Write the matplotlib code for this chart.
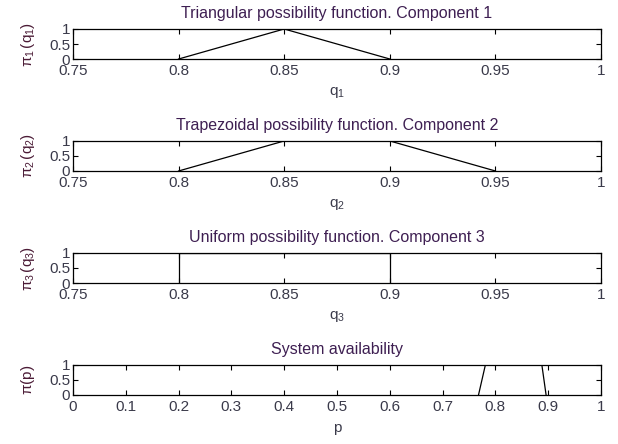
import matplotlib
matplotlib.use("Agg")
import matplotlib.pyplot as plt

plt.rcParams['font.family'] = ['Liberation Sans', 'DejaVu Sans']
plt.rcParams['mathtext.fontset'] = 'custom'
plt.rcParams['mathtext.rm'] = 'Liberation Sans'
plt.rcParams['mathtext.it'] = 'Liberation Sans'
plt.rcParams['font.size'] = 11

# Possibility functions
q1 = [0.80, 0.85, 0.90]
pi1 = [0, 1, 0]

q2 = [0.80, 0.85, 0.90, 0.95]
pi2 = [0, 1, 1, 0]

q3 = [0.80, 0.80, 0.90, 0.90]
pi3 = [0, 1, 1, 0]

p_sys = [0.768, 0.781, 0.888, 0.896]
pi_sys = [0, 1, 1, 0]

q_ticks = [0.75, 0.8, 0.85, 0.9, 0.95, 1]
q_ticklabels = ['0.75', '0.8', '0.85', '0.9', '0.95', '1']
p_ticks = [0, 0.1, 0.2, 0.3, 0.4, 0.5, 0.6, 0.7, 0.8, 0.9, 1]
p_ticklabels = ['0', '0.1', '0.2', '0.3', '0.4', '0.5', '0.6', '0.7', '0.8', '0.9', '1']
y_ticks = [0, 0.5, 1]
y_ticklabels = ['0', '0.5', '1']

panels = [
    (q1, pi1, 'Triangular possibility function. Component 1', r'$q_1$', r'$\pi_1\,(q_1)$',
     (0.75, 1), q_ticks, q_ticklabels),
    (q2, pi2, 'Trapezoidal possibility function. Component 2', r'$q_2$', r'$\pi_2\,(q_2)$',
     (0.75, 1), q_ticks, q_ticklabels),
    (q3, pi3, 'Uniform possibility function. Component 3', r'$q_3$', r'$\pi_3\,(q_3)$',
     (0.75, 1), q_ticks, q_ticklabels),
    (p_sys, pi_sys, 'System availability', 'p', r'$\pi(p)$',
     (0, 1), p_ticks, p_ticklabels),
]

TITLE_C = '#3e1f52'
TICK_C = '#3a3a4a'
YLAB_C = '#4a1a35'

fig = plt.figure(figsize=(6.18, 4.44), dpi=100)
bottoms = [0.8671, 0.6149, 0.3626, 0.1104]
left, width, height = 0.1181, 0.8544, 0.0676

for (x, y, title, xlab, ylab, xlim, xt, xtl), b in zip(panels, bottoms):
    ax = fig.add_axes([left, b, width, height])
    ax.plot(x, y, color='black', linewidth=0.9)
    ax.set_xlim(*xlim)
    ax.set_ylim(0, 1)
    ax.set_xticks(xt)
    ax.set_xticklabels(xtl)
    ax.set_yticks(y_ticks)
    ax.set_yticklabels(y_ticklabels)
    ax.tick_params(direction='in', length=3.5, width=0.8, top=True, right=True,
                   labelsize=11, colors='black')
    ax.tick_params(axis='x', pad=3.5)
    ax.tick_params(axis='y', pad=2)
    for lab in ax.get_xticklabels() + ax.get_yticklabels():
        lab.set_color(TICK_C)
    for s in ax.spines.values():
        s.set_linewidth(0.9)
    ax.set_title(title, color=TITLE_C, fontsize=11.5, pad=8)
    ax.set_xlabel(xlab, color=TICK_C, fontsize=11, labelpad=5)
    ax.set_ylabel(ylab, color=YLAB_C, fontsize=11, labelpad=9)

fig.savefig('out.png', dpi=100)
